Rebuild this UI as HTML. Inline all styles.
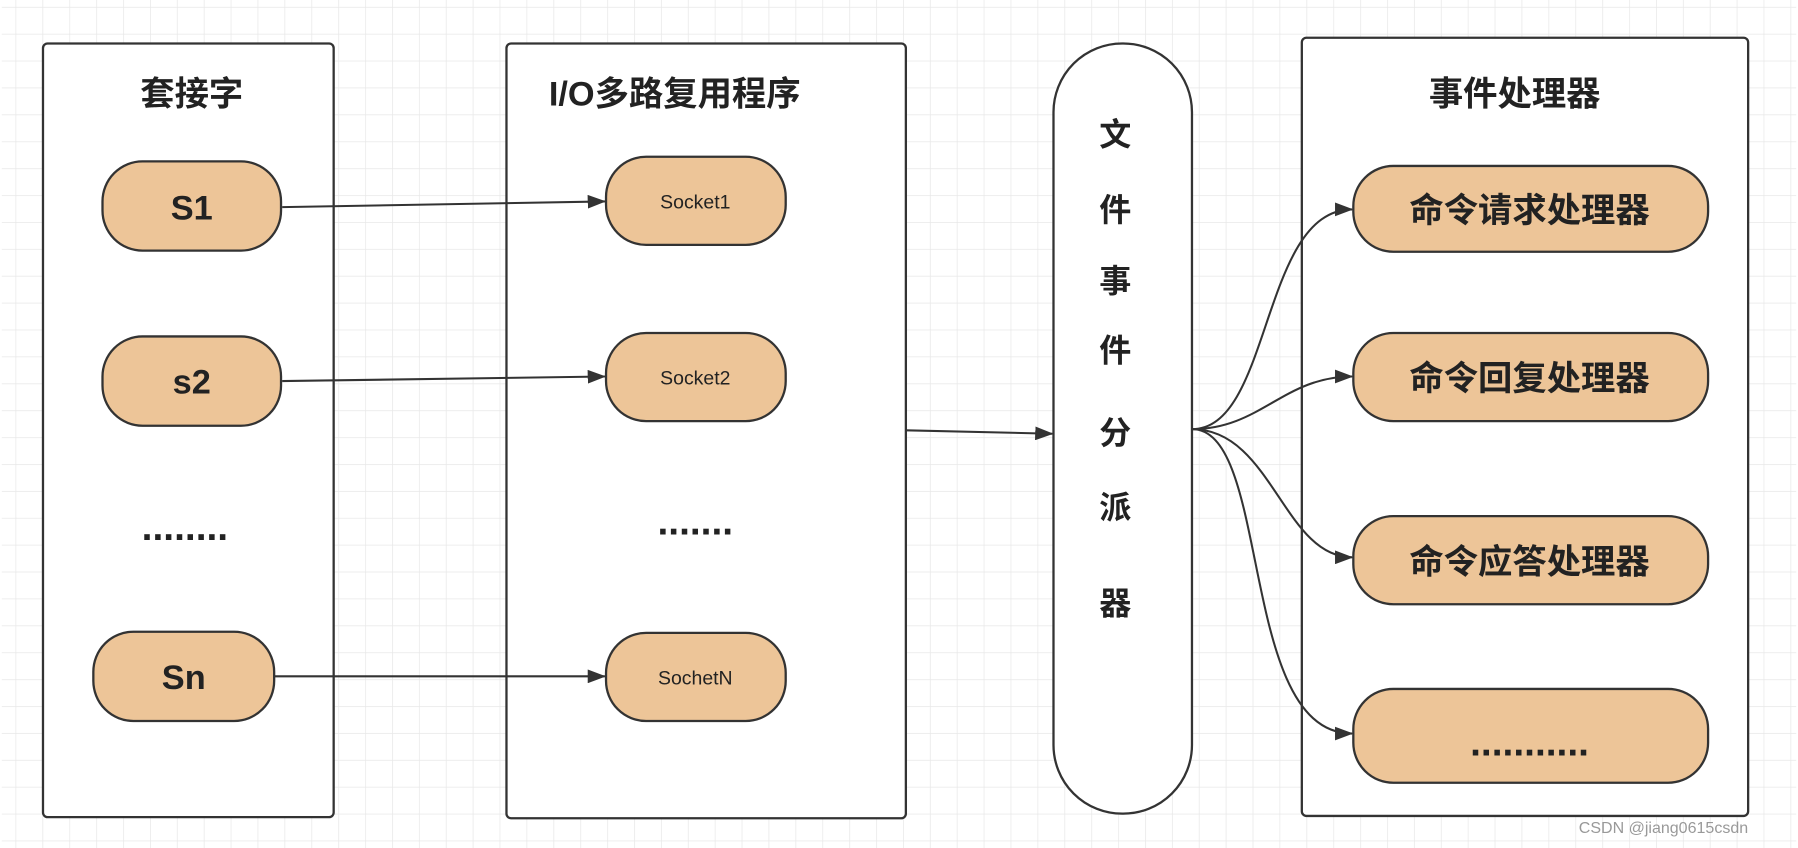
<!DOCTYPE html>
<html><head><meta charset="utf-8"><style>
html,body{margin:0;padding:0;background:#fff;overflow:hidden}
svg{display:block}
text{font-family:"Liberation Sans","Noto Sans CJK SC",sans-serif;fill:#222}
</style></head><body>
<svg width="1798" height="848" viewBox="0 0 1568 741" xmlns="http://www.w3.org/2000/svg">
<defs>
<pattern id="g" width="23.5" height="23.5" patternUnits="userSpaceOnUse" x="12" y="6">
<path d="M0 0H23.5M0 0V23.5" stroke="#e8e8e8" stroke-width="1.3" fill="none"/>
</pattern>
<marker id="a" markerWidth="16" markerHeight="12" refX="15" refY="6" orient="auto" markerUnits="userSpaceOnUse">
<path d="M0 0L16 6L0 12z" fill="#333"/>
</marker>
</defs>
<rect width="1568" height="741" fill="url(#g)"/>
<g stroke="#333" stroke-width="2">
<rect x="36" y="38" width="254" height="676" rx="4" fill="#fff"/>
<rect x="441" y="38" width="349" height="677" rx="4" fill="#fff"/>
<rect x="919" y="38" width="121" height="673" rx="60" fill="#fff"/>
<rect x="1136" y="33" width="390" height="680" rx="4" fill="#fff"/>
<g fill="#EDC598">
<rect x="88" y="141" width="156" height="78" rx="35"/>
<rect x="88" y="294" width="156" height="78" rx="35"/>
<rect x="80" y="552" width="158" height="78" rx="35"/>
<rect x="528" y="137" width="157" height="77" rx="35"/>
<rect x="528" y="291" width="157" height="77" rx="35"/>
<rect x="528" y="553" width="157" height="77" rx="35"/>
<rect x="1181" y="145" width="310" height="75" rx="35"/>
<rect x="1181" y="291" width="310" height="77" rx="35"/>
<rect x="1181" y="451" width="310" height="77" rx="35"/>
<rect x="1181" y="602" width="310" height="82" rx="35"/>
</g>
</g>
<g stroke="#333" stroke-width="1.8" fill="none" marker-end="url(#a)">
<path d="M245 181L527 176"/>
<path d="M245 333L527 329"/>
<path d="M238 591L527 591"/>
<path d="M790 376L918 379"/>
<path d="M1040 375C1110 375 1100 183 1180 183"/>
<path d="M1040 375C1100 375 1120 329 1180 329"/>
<path d="M1040 375C1110 375 1120 487 1180 487"/>
<path d="M1040 375C1110 375 1080 641 1180 641"/>
</g>
<g font-weight="bold" font-size="30" text-anchor="middle">
<text x="166" y="92">套接字</text>
<text x="588" y="92">I/O多路复用程序</text>
<text x="1322" y="92">事件处理器</text>
<text x="166" y="192">S1</text>
<text x="166" y="344">s2</text>
<text x="159" y="602">Sn</text>
<text x="1335" y="194">命令请求处理器</text>
<text x="1335" y="341">命令回复处理器</text>
<text x="1335" y="501">命令应答处理器</text>
</g>
<g font-weight="bold" font-size="34" text-anchor="middle">
<text x="160" y="472">........</text>
<text x="606" y="467">.......</text>
<text x="1335" y="660">...........</text>
</g>
<g font-size="17" text-anchor="middle">
<text x="606" y="182">Socket1</text>
<text x="606" y="336">Socket2</text>
<text x="606" y="598">SochetN</text>
</g>
<g font-weight="bold" font-size="28" text-anchor="middle">
<text x="973" y="127">文</text>
<text x="973" y="193">件</text>
<text x="973" y="255">事</text>
<text x="973" y="316">件</text>
<text x="973" y="388">分</text>
<text x="973" y="453">派</text>
<text x="973" y="537">器</text>
</g>
<text x="1378" y="728" font-size="14" style="fill:#999">CSDN @jiang0615csdn</text>
</svg>
</body></html>
